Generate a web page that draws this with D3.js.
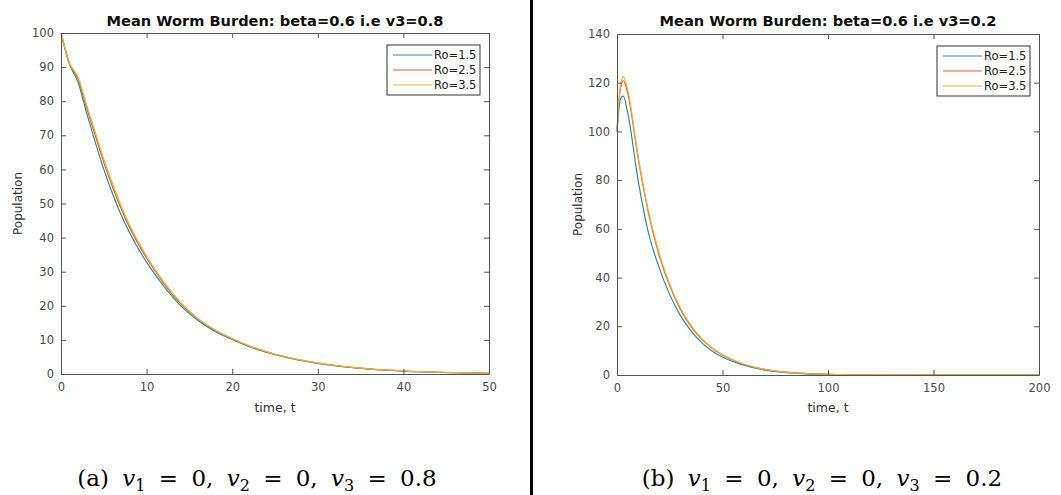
<!DOCTYPE html>
<html>
<head>
<meta charset="utf-8">
<title>Mean Worm Burden</title>
<script src="https://d3js.org/d3.v7.min.js"></script>
<style>
    body { margin: 0; background: #fff; }
    svg { display: block; }
    .tick text { font-family: "DejaVu Sans", sans-serif; font-size: 11.5px; fill: #4a4a4a; }
    .tick line { stroke: #555; }
    .domain { stroke: #555; }
</style>
</head>
<body>
<svg id="svg"></svg>
<script>
// ---- data ----
var seriesNames = ["Ro=1.5", "Ro=2.5", "Ro=3.5"]
var seriesColors = ["#2a86c0", "#d9632a", "#e8b52c"]

// panel (a): v3 = 0.8
var timeA = [0, 1, 2, 3, 4, 5, 6, 7, 8, 10, 12, 14, 16, 18, 20, 22, 25, 30, 35, 40, 45, 50]
var ro15A = [100, 90.8, 85.5, 76.5, 68, 60, 53, 46.8, 41.5, 32.8, 25.8, 20, 15.7, 12.5, 10.1, 8.0, 5.7, 3.1, 1.65, 0.85, 0.42, 0.2]
var ro25A = [100, 91, 86.5, 78, 70, 62, 55, 48.6, 43, 34, 26.6, 20.6, 16.1, 12.8, 10.3, 8.2, 5.8, 3.2, 1.7, 0.88, 0.44, 0.21]
var ro35A = [100, 91.2, 87, 78.8, 71, 63, 56, 49.5, 43.8, 34.6, 27, 20.9, 16.3, 12.9, 10.4, 8.25, 5.85, 3.25, 1.72, 0.9, 0.45, 0.22]
var xTicksA = [0, 10, 20, 30, 40, 50]
var yTicksA = [0, 10, 20, 30, 40, 50, 60, 70, 80, 90, 100]

// panel (b): v3 = 0.2
var timeB = [0, 1, 2, 3, 5, 10, 15, 20, 25, 30, 35, 40, 45, 50, 60, 70, 80, 90, 100, 120, 150, 200]
var ro15B = [100, 110, 114, 114.5, 108, 80, 58, 44, 33, 24.5, 18.2, 13.4, 9.9, 7.4, 4, 2, 1, 0.5, 0.25, 0.06, 0.01, 0]
var ro25B = [100, 113, 119, 120.8, 116, 89, 66, 49, 36.5, 27, 20, 14.8, 11, 8.2, 4.4, 2.3, 1.15, 0.6, 0.3, 0.07, 0.01, 0]
var ro35B = [100, 114, 120.5, 122.5, 117.5, 90, 67, 50, 37.2, 27.6, 20.5, 15.1, 11.2, 8.4, 4.5, 2.35, 1.2, 0.62, 0.31, 0.07, 0.01, 0]
var xTicksB = [0, 50, 100, 150, 200]
var yTicksB = [0, 20, 40, 60, 80, 100, 120, 140]

var width = 1061
var height = 495

var svg = d3.select("svg")
    .attr("width", width)
    .attr("height", height)

// divider between the two sub-figures
svg.append("line")
    .attr("x1", 531.5).attr("x2", 531.5)
    .attr("y1", 0).attr("y2", height)
    .attr("stroke", "#000")
    .attr("stroke-width", 3)

drawPanel({
    left: 61, right: 489, top: 33, bottom: 374,
    xMax: 50, yMax: 100, xTicks: xTicksA, yTicks: yTicksA,
    time: timeA, series: [ro15A, ro25A, ro35A],
    title: "Mean Worm Burden: beta=0.6 i.e v3=0.8",
    ylabelX: 18,
    caption: ["(a) ", "0.8"], captionX: 257
})

drawPanel({
    left: 617, right: 1039, top: 34, bottom: 375,
    xMax: 200, yMax: 140, xTicks: xTicksB, yTicks: yTicksB,
    time: timeB, series: [ro15B, ro25B, ro35B],
    title: "Mean Worm Burden: beta=0.6 i.e v3=0.2",
    ylabelX: 578,
    caption: ["(b) ", "0.2"], captionX: 822
})

function drawPanel(p) {
    var x = d3.scaleLinear().domain([0, p.xMax]).range([p.left, p.right])
    var y = d3.scaleLinear().domain([0, p.yMax]).range([p.bottom, p.top])
    var g = svg.append("g")

    g.append("rect")
        .attr("x", p.left).attr("y", p.top)
        .attr("width", p.right - p.left).attr("height", p.bottom - p.top)
        .attr("fill", "#fff")

    // series lines
    var line = d3.line()
        .x(function (d) { return x(d[0]) })
        .y(function (d) { return y(d[1]) })
        .curve(d3.curveMonotoneX)

    p.series.forEach(function (vals, i) {
        var pts = p.time.map(function (t, j) { return [t, vals[j]] })
        g.append("path")
            .attr("d", line(pts))
            .attr("fill", "none")
            .attr("stroke", seriesColors[i])
            .attr("stroke-width", 1.2)
    })

    // axes, matlab style: ticks inside on all four sides
    g.append("g").attr("transform", "translate(0," + p.bottom + ")")
        .call(d3.axisBottom(x).tickValues(p.xTicks).tickSizeInner(-5).tickSizeOuter(0).tickPadding(9))
    g.append("g").attr("transform", "translate(" + p.left + ",0)")
        .call(d3.axisLeft(y).tickValues(p.yTicks).tickSizeInner(-5).tickSizeOuter(0).tickPadding(7))
    g.append("g").attr("transform", "translate(0," + p.top + ")")
        .call(d3.axisTop(x).tickValues(p.xTicks).tickSizeInner(-5).tickSizeOuter(0).tickFormat(""))
    g.append("g").attr("transform", "translate(" + p.right + ",0)")
        .call(d3.axisRight(y).tickValues(p.yTicks).tickSizeInner(-5).tickSizeOuter(0).tickFormat(""))

    // title and axis labels
    g.append("text")
        .attr("x", (p.left + p.right) / 2).attr("y", 26)
        .attr("text-anchor", "middle")
        .attr("font-family", "DejaVu Sans, sans-serif")
        .attr("font-weight", "bold")
        .attr("font-size", 14.6)
        .attr("fill", "#111")
        .text(p.title)

    g.append("text")
        .attr("x", (p.left + p.right) / 2).attr("y", 412)
        .attr("text-anchor", "middle")
        .attr("font-family", "DejaVu Sans, sans-serif")
        .attr("font-size", 12.5)
        .attr("fill", "#333")
        .text("time, t")

    g.append("text")
        .attr("transform", "translate(" + p.ylabelX + "," + (p.top + p.bottom) / 2 + ") rotate(-90)")
        .attr("text-anchor", "middle")
        .attr("dominant-baseline", "central")
        .attr("font-family", "DejaVu Sans, sans-serif")
        .attr("font-size", 12)
        .attr("fill", "#333")
        .text("Population")

    // legend
    var lx = p.right - 102
    var ly = p.top + 12
    var legend = g.append("g").attr("transform", "translate(" + lx + "," + ly + ")")
    legend.append("rect")
        .attr("width", 93).attr("height", 50)
        .attr("fill", "#fff")
        .attr("stroke", "#333")
        .attr("stroke-width", 1)
    seriesNames.forEach(function (name, i) {
        var ry = 10 + i * 15
        legend.append("line")
            .attr("x1", 6).attr("x2", 45)
            .attr("y1", ry).attr("y2", ry)
            .attr("stroke", seriesColors[i])
            .attr("stroke-width", 1.2)
        legend.append("text")
            .attr("x", 47).attr("y", ry + 4)
            .attr("font-family", "DejaVu Sans, sans-serif")
            .attr("font-size", 11.5)
            .attr("fill", "#222")
            .text(name)
    })

    // sub-figure caption
    var cap = g.append("text")
        .attr("x", p.captionX).attr("y", 486)
        .attr("text-anchor", "middle")
        .attr("font-family", "DejaVu Serif, serif")
        .attr("font-size", 23)
        .attr("word-spacing", 6)
        .attr("fill", "#000")
    cap.append("tspan").text(p.caption[0])
    var parts = [["1", " = 0, "], ["2", " = 0, "], ["3", " = " + p.caption[1]]]
    parts.forEach(function (part) {
        cap.append("tspan").attr("font-style", "italic").text("v")
        cap.append("tspan").attr("font-size", 16).attr("dy", 5).text(part[0])
        cap.append("tspan").attr("dy", -5).text(part[1])
    })
}
</script>
</body>
</html>
